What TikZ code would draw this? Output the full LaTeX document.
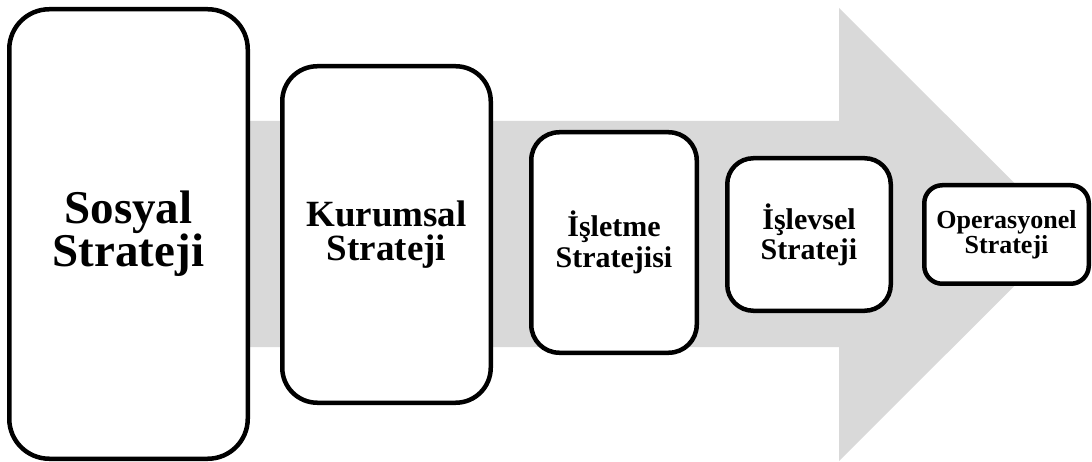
\documentclass[tikz,border=0pt]{standalone}
\usepackage{fontspec}
\setmainfont{Liberation Serif}
\definecolor{arrowgray}{HTML}{D9D9D9}
\tikzset{
  stage/.style={draw=black, line width=4.5pt, fill=white, inner sep=0pt,
    align=center},
}
\begin{document}
\begin{tikzpicture}[x=1pt, y=-1pt]
  \useasboundingbox (0,0) rectangle (1092,462);
  % broad background arrow
  \fill[arrowgray] (20,121) -- (839,121) -- (839,8) -- (1066,234.5)
    -- (839,461) -- (839,347) -- (20,347) -- cycle;
  % strategy levels
  \node[stage, minimum width=238.5pt, minimum height=449.5pt, rounded corners=40pt,
    font=\bfseries\fontsize{47}{43}\selectfont]
    (sosyal) at (128.5,234) {Sosyal\\Strateji};
  \node[stage, minimum width=208.5pt, minimum height=336.5pt, rounded corners=35pt,
    font=\bfseries\fontsize{37}{34}\selectfont]
    (kurumsal) at (386.5,234.5) {Kurumsal\\Strateji};
  \node[stage, minimum width=165.5pt, minimum height=220.5pt, rounded corners=28pt,
    font=\bfseries\fontsize{30}{31}\selectfont]
    (isletme) at (614,242.5) {İşletme\\Stratejisi};
  \node[stage, minimum width=163.5pt, minimum height=152.5pt, rounded corners=26pt,
    font=\bfseries\fontsize{30}{30}\selectfont]
    (islevsel) at (809,234.5) {İşlevsel\\Strateji};
  \node[stage, minimum width=164.5pt, minimum height=98.5pt, rounded corners=18pt,
    font=\bfseries\fontsize{26}{25}\selectfont]
    (operasyonel) at (1006.5,234.5) {Operasyonel\\Strateji};
\end{tikzpicture}
\end{document}
